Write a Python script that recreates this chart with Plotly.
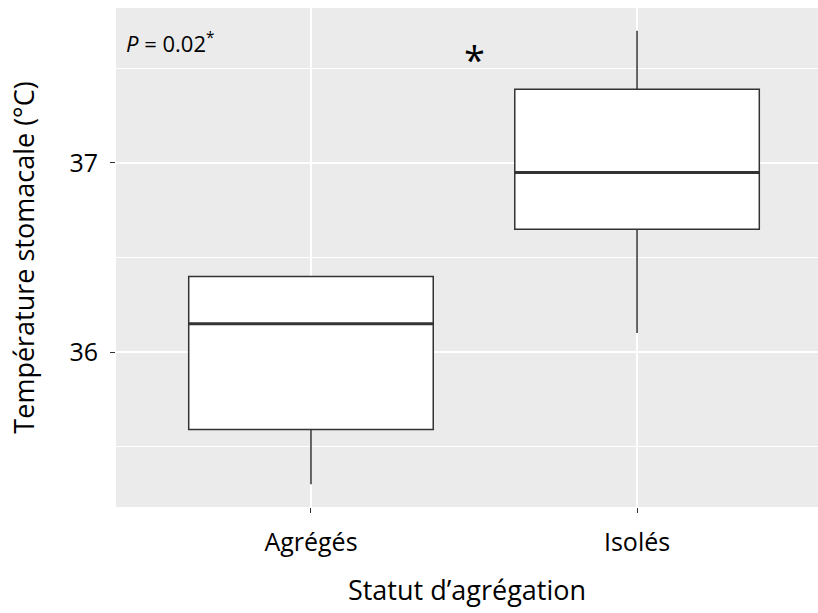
import plotly.graph_objects as go

categories = ["Agrégés", "Isolés"]
lower_whisker = [35.30, 36.10]
q1 = [35.59, 36.65]
median = [36.15, 36.95]
q3 = [36.40, 37.39]
upper_whisker = [36.40, 37.70]
y_ticks = [36, 37]
p_label = "<i>P</i> = 0.02<sup>*</sup>"
box_width = 0.75

FONT = "Open Sans"
LINE = "#333333"

fig = go.Figure()
fig.add_trace(go.Box(
    x=categories, q1=q1, median=median, q3=q3,
    lowerfence=lower_whisker, upperfence=upper_whisker,
    width=box_width, fillcolor="white",
    line=dict(color=LINE, width=1.5), whiskerwidth=0,
    boxpoints=False, showlegend=False, hoverinfo="skip",
))

for i, m in enumerate(median):
    fig.add_shape(type="line", xref="x", yref="y",
                  x0=i - box_width / 2, x1=i + box_width / 2, y0=m, y1=m,
                  line=dict(color=LINE, width=3))

fig.add_annotation(text=p_label, xref="paper", yref="paper", x=0.012, y=0.93,
                   xanchor="left", yanchor="middle", showarrow=False,
                   font=dict(family=FONT, size=22, color="black"))
fig.add_annotation(text="*", xref="x", yref="y", x=0.5, y=37.55,
                   xanchor="center", yanchor="middle", showarrow=False,
                   font=dict(family=FONT, size=38, color="black"))

fig.update_layout(
    width=818, height=613,
    margin=dict(l=116, r=0, t=8, b=106),
    paper_bgcolor="white", plot_bgcolor="#EBEBEB",
    font=dict(family=FONT, color="black"),
    xaxis=dict(
        type="category", range=[-0.598, 1.555],
        showgrid=True, gridcolor="white", gridwidth=1.5,
        ticks="outside", ticklen=5, tickcolor="#333333", tickwidth=1,
        ticklabelstandoff=8,
        tickfont=dict(family=FONT, size=25, color="black"),
        title=dict(text="Statut d’agrégation", font=dict(family=FONT, size=27, color="black"), standoff=24),
        zeroline=False, showline=False,
    ),
    yaxis=dict(
        range=[35.18, 37.82], tickvals=y_ticks, ticktext=[str(t) for t in y_ticks],
        showgrid=True, gridcolor="white", gridwidth=1.5,
        minor=dict(tick0=35.5, dtick=1, showgrid=True, gridcolor="white", gridwidth=0.8),
        ticks="outside", ticklen=5, tickcolor="#333333", tickwidth=1,
        ticklabelstandoff=7,
        tickfont=dict(family=FONT, size=25, color="black"),
        title=dict(text="Température stomacale (°C)", font=dict(family=FONT, size=27, color="black"), standoff=26),
        zeroline=False, showline=False,
    ),
)

fig.write_html("out.html", config={"displayModeBar": False},
               post_script="document.body.style.margin='0';")
